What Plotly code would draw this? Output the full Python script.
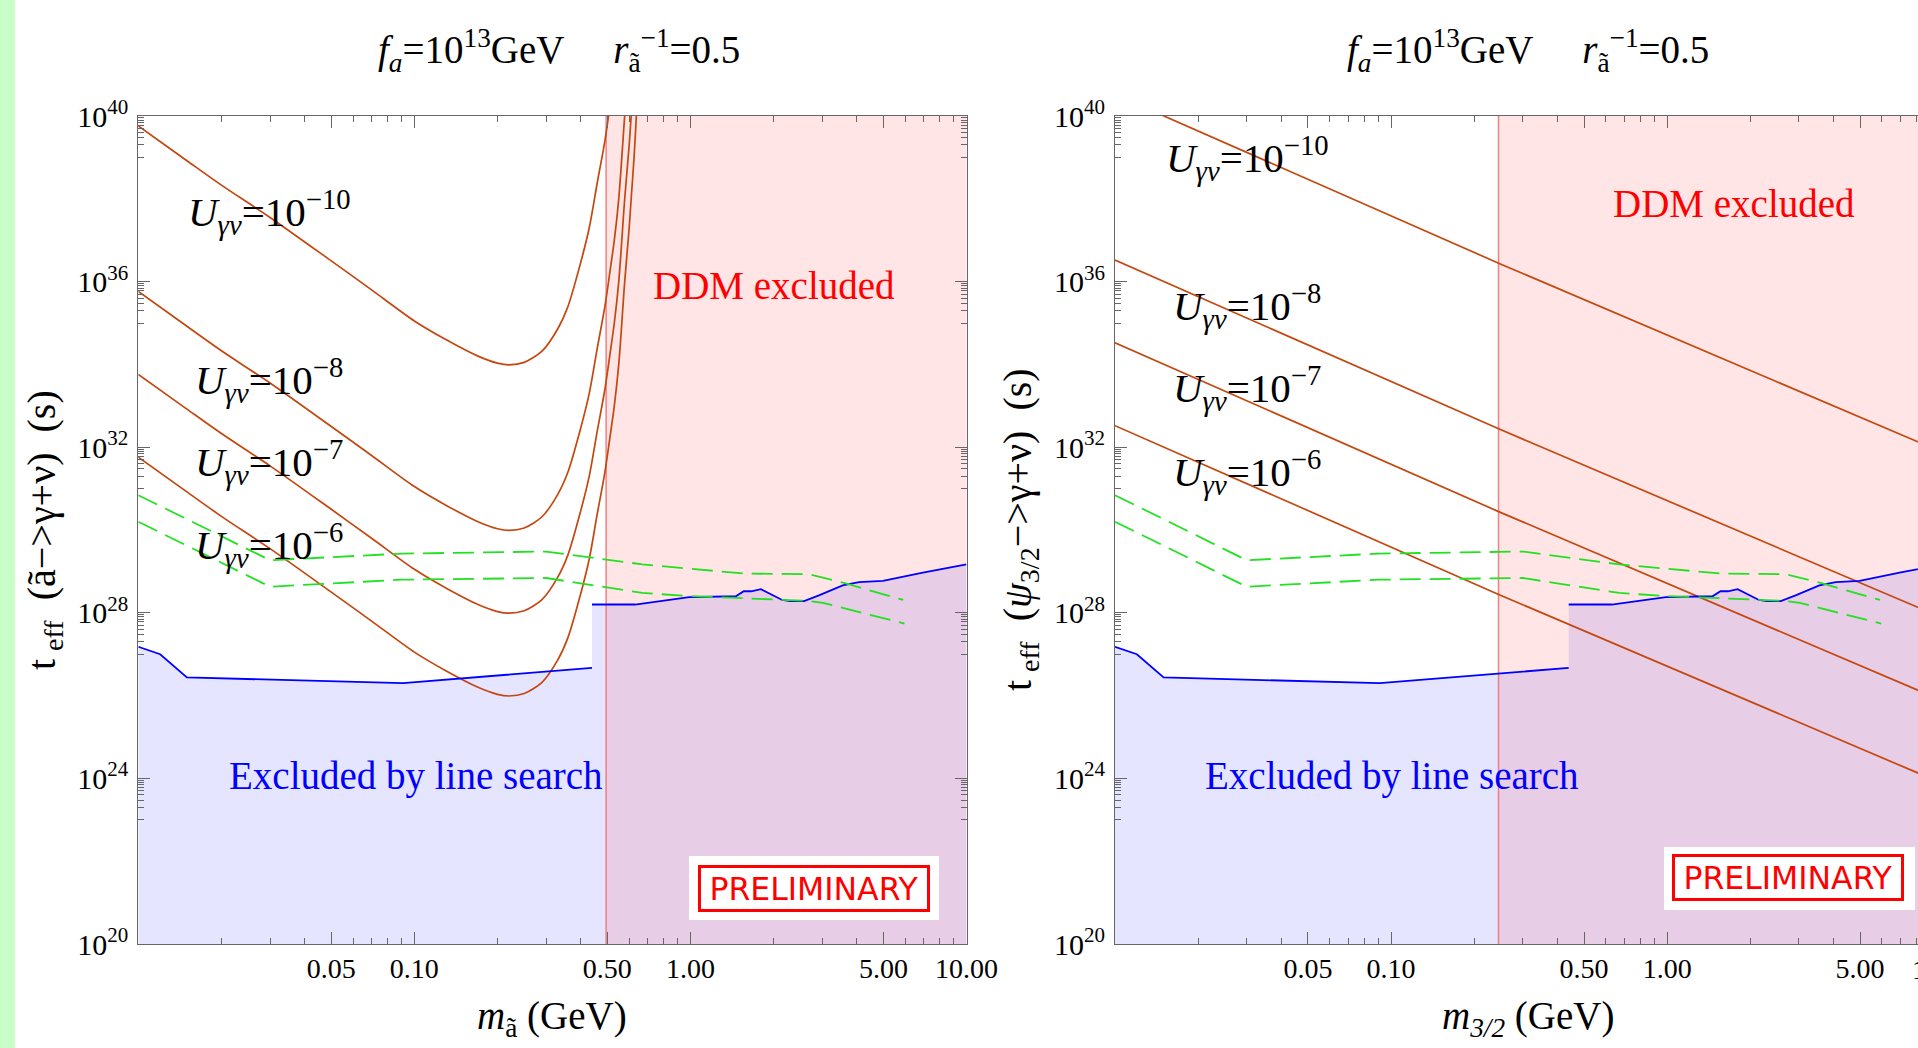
import plotly.graph_objects as go

W, H = 1918, 1048
SERIF = "Liberation Serif"
FRAME = "#666666"
RED = "#c4470f"
GREEN = "#22e022"
BLUE = "#0000ff"

# ---------------- data (log10 of lifetime in s) ----------------
# axino -> gamma + nu, left panel
m_axino = [0.01, 0.015, 0.02, 0.03, 0.05, 0.07, 0.1, 0.13, 0.17, 0.2, 0.22, 0.25, 0.29,
           0.33, 0.36, 0.4, 0.43, 0.46, 0.49, 0.51, 0.53, 0.55, 0.578, 0.6, 0.61, 0.625, 0.637, 0.65]
lt_axino_u10 = [39.76, 38.92, 38.33, 37.55, 36.5, 35.8, 35.05, 34.6, 34.2, 34.03, 33.99, 34.05, 34.32,
                34.85, 35.4, 36.45, 37.3, 38.4, 39.4, 40.2, 41.0, 42.0, 44.0, 45.3, 46.0, 47.0, 48.0, 49.0]
lt_axino_u8 = [35.76, 34.92, 34.33, 33.55, 32.5, 31.8, 31.05, 30.6, 30.2, 30.03, 29.99, 30.05, 30.32,
               30.85, 31.4, 32.45, 33.3, 34.4, 35.4, 36.2, 37.0, 38.0, 40.0, 41.3, 42.0, 43.0, 44.0, 45.0]
lt_axino_u7 = [33.76, 32.92, 32.33, 31.55, 30.5, 29.8, 29.05, 28.6, 28.2, 28.03, 27.99, 28.05, 28.32,
               28.85, 29.4, 30.45, 31.3, 32.4, 33.4, 34.2, 35.0, 36.0, 38.0, 39.3, 40.0, 41.0, 42.0, 43.0]
lt_axino_u6 = [31.76, 30.92, 30.33, 29.55, 28.5, 27.8, 27.05, 26.6, 26.2, 26.03, 25.99, 26.05, 26.32,
               26.85, 27.4, 28.45, 29.3, 30.4, 31.4, 32.2, 33.0, 34.0, 36.0, 37.3, 38.0, 39.0, 40.0, 41.0]

# gravitino -> gamma + nu, right panel
m_grav = [0.01, 0.25, 10.0]
lt_grav_u10 = [40.52, 36.42, 31.87]
lt_grav_u8 = [36.52, 32.42, 27.87]
lt_grav_u7 = [34.52, 30.42, 25.87]
lt_grav_u6 = [32.52, 28.42, 23.87]

# line-search bound (blue), two pieces
m_line_a = [0.01, 0.012, 0.015, 0.091, 0.44]
lt_line_a = [27.18, 27.0, 26.44, 26.3, 26.67]
m_line_b = [0.44, 0.63, 0.99, 1.46, 1.56, 1.66, 1.8, 2.15, 2.3, 2.58, 2.92, 3.56, 4.08, 4.98, 6.95, 10.0]
lt_line_b = [28.2, 28.2, 28.38, 28.4, 28.52, 28.52, 28.57, 28.31, 28.28, 28.28, 28.42, 28.66, 28.74, 28.77, 28.97, 29.17]

# green dashed curves
m_dash_up = [0.01, 0.03, 0.09, 0.3, 0.67, 1.55, 2.7, 3.6, 5.9]
lt_dash_up = [30.84, 29.27, 29.43, 29.48, 29.17, 28.95, 28.93, 28.72, 28.31]
m_dash_lo = [0.01, 0.03, 0.09, 0.3, 0.67, 0.96, 2.62, 3.02, 5.96]
lt_dash_lo = [30.2, 28.63, 28.8, 28.84, 28.48, 28.41, 28.29, 28.24, 27.74]

# DDM excluded thresholds
ddm_left = 0.495
ddm_right = 0.245

x_tickvals = [0.05, 0.1, 0.5, 1.0, 5.0, 10.0]
x_ticktext = ["0.05", "0.10", "0.50", "1.00", "5.00", "10.00"]
x_minor = [0.02, 0.03, 0.04, 0.06, 0.07, 0.08, 0.09, 0.2, 0.3, 0.4, 0.6, 0.7, 0.8, 0.9,
           2, 3, 4, 6, 7, 8, 9]
y_exps = [20, 24, 28, 32, 36, 40]
y_tickvals = [10.0 ** e for e in y_exps]
y_ticktext = ["10<sup>%d</sup>" % e for e in y_exps]
y_minor = [k * 10.0 ** (e - 1) for e in [24, 28, 32, 36, 40] for k in range(1, 10)]

# --------------------------------------------------------------------------------------
def tv(lst):
    return [10.0 ** v for v in lst]

def px(x):
    return x / W

def py(y):
    return 1 - y / H

fig = go.Figure()

def add_panel(xa, ya, ddm, curves):
    # line-search excluded fill
    fx = m_line_a + m_line_b + [10.0, 0.01]
    fy = tv(lt_line_a) + tv(lt_line_b) + [1e10, 1e10]
    fig.add_trace(go.Scatter(x=fx, y=fy, xaxis=xa, yaxis=ya, mode="lines", fill="toself",
                             fillcolor="rgba(0,0,255,0.1)", line=dict(width=0), hoverinfo="skip",
                             showlegend=False))
    # DDM excluded fill
    fig.add_trace(go.Scatter(x=[ddm, ddm, 100, 100, ddm], y=[1e10, 1e50, 1e50, 1e10, 1e10],
                             xaxis=xa, yaxis=ya, mode="lines", fill="toself",
                             fillcolor="rgba(255,0,0,0.1)", line=dict(width=1.5, color="rgba(240,110,110,0.85)"),
                             hoverinfo="skip", showlegend=False))
    for mx, lt in curves:
        fig.add_trace(go.Scatter(x=mx, y=tv(lt), xaxis=xa, yaxis=ya, mode="lines",
                                 line=dict(color=RED, width=1.7, shape="spline", smoothing=0.8),
                                 showlegend=False))
    for mx, lt in [(m_line_a, lt_line_a), (m_line_b, lt_line_b)]:
        fig.add_trace(go.Scatter(x=mx, y=tv(lt), xaxis=xa, yaxis=ya, mode="lines",
                                 line=dict(color=BLUE, width=1.8), showlegend=False))
    for mx, lt in [(m_dash_up, lt_dash_up), (m_dash_lo, lt_dash_lo)]:
        fig.add_trace(go.Scatter(x=mx, y=tv(lt), xaxis=xa, yaxis=ya, mode="lines",
                                 line=dict(color=GREEN, width=1.8, dash="21px,9px"), showlegend=False))

add_panel("x", "y", ddm_left, [(m_axino, lt_axino_u10), (m_axino, lt_axino_u8),
                               (m_axino, lt_axino_u7), (m_axino, lt_axino_u6)])
add_panel("x2", "y2", ddm_right, [(m_grav, lt_grav_u10), (m_grav, lt_grav_u8),
                                  (m_grav, lt_grav_u7), (m_grav, lt_grav_u6)])

ydom = [py(944), py(116)]

def xaxis(domain, rng, anchor):
    return dict(type="log", range=rng, domain=domain, anchor=anchor, showgrid=False, zeroline=False,
                showline=True, linecolor=FRAME, linewidth=1, mirror="allticks",
                ticks="inside", ticklen=12, tickwidth=1, tickcolor=FRAME,
                tickmode="array", tickvals=x_tickvals, ticktext=x_ticktext,
                tickfont=dict(family=SERIF, size=28, color="black"), ticklabelstandoff=-1,
                minor=dict(tickvals=x_minor, ticks="inside", ticklen=6, tickcolor=FRAME, showgrid=False),
                automargin=False, fixedrange=True)

def yaxis(anchor, mirror):
    return dict(type="log", range=[20, 40], domain=ydom, anchor=anchor, showgrid=False, zeroline=False,
                showline=True, linecolor=FRAME, linewidth=1, mirror=mirror,
                ticks="inside", ticklen=12, tickwidth=1, tickcolor=FRAME,
                tickmode="array", tickvals=y_tickvals, ticktext=y_ticktext,
                tickfont=dict(family=SERIF, size=30, color="black"), ticklabelstandoff=3,
                minor=dict(tickvals=y_minor, ticks="inside", ticklen=6, tickcolor=FRAME, showgrid=False),
                automargin=False, fixedrange=True)

L0, L1 = 138.3, 966.5
R0 = 1115.0
dec = (L1 - L0) / 3.0
right_hi = -2 + (W - R0) / dec

fig.update_layout(
    width=W, height=H, autosize=False,
    margin=dict(l=0, r=0, t=0, b=0, pad=0, autoexpand=False),
    paper_bgcolor="white", plot_bgcolor="white", showlegend=False,
    xaxis=xaxis([px(L0), px(L1)], [-2, 1], "y"),
    yaxis=yaxis("x", "allticks"),
    xaxis2=xaxis([px(R0), 1.0], [-2, right_hi], "y2"),
    yaxis2=yaxis("x2", False),
)

ann = []
def text(x, y, s, size, color="black", family=SERIF, xanchor="center", yanchor="middle", angle=0):
    ann.append(dict(x=px(x), y=py(y), xref="paper", yref="paper", text=s, showarrow=False,
                    font=dict(family=family, size=size, color=color), xanchor=xanchor,
                    yanchor=yanchor, textangle=angle))

title = ("<i>f</i><sub><i>a</i></sub>=10<sup>13</sup>GeV\u2003 <i>r</i><sub>ã</sub>"
         "<sup>\u22121</sup>=0.5")
text(559, 50, title, 39)
text(1528, 50, title, 39)

text(552, 1018, "<i>m</i><sub>ã</sub> (GeV)", 39)
text(1528, 1018, "<i>m</i><sub><i>3/2</i></sub> (GeV)", 39)
text(44, 530, "t\u2009<sub>eff</sub>\u2002(ã\u2212>\u03b3+\u03bd)\u2002(s)", 40, angle=-90)
text(1020, 530, "t\u2009<sub>eff</sub>\u2002(<i>\u03c8</i><sub>3/2</sub>\u2212>\u03b3+\u03bd)\u2002(s)", 40, angle=-90)

text(1943, 969, "10.00", 28)

def ulab(x, y, e):
    text(x, y, "<i>U</i><sub><i>\u03b3\u03bd</i></sub>=10<sup>\u2212%d</sup>" % e, 41,
         xanchor="left")

ulab(186, 212, 10)
ulab(193, 380, 8)
ulab(193, 462, 7)
ulab(193, 545, 6)
ulab(1164, 158, 10)
ulab(1171, 306, 8)
ulab(1171, 388, 7)
ulab(1171, 472, 6)

text(774, 286, "DDM excluded", 39, color="red")
text(1734, 203, "DDM excluded", 39, color="red")
text(227, 776, "Excluded by line search", 39, color="blue", xanchor="left")
text(1203, 776, "Excluded by line search", 39, color="blue", xanchor="left")

for cx, cy in [(813.5, 888), (1788, 877.5)]:
    ann.append(dict(x=px(cx), y=py(cy), xref="paper", yref="paper", text="PRELIMINARY",
                    showarrow=False, font=dict(family="DejaVu Sans", size=31.5, color="red"),
                    bordercolor="red", borderwidth=3, borderpad=2, bgcolor="white",
                    width=222, height=37, align="center", valign="middle",
                    xanchor="center", yanchor="middle"))

shapes = [
    dict(type="rect", xref="paper", yref="paper", x0=0, x1=px(15), y0=0, y1=1,
         fillcolor="#c8ffc8", line=dict(width=0), layer="below"),
    dict(type="rect", xref="paper", yref="paper", x0=px(689), x1=px(939), y0=py(920), y1=py(856),
         fillcolor="white", line=dict(width=0), layer="above"),
    dict(type="rect", xref="paper", yref="paper", x0=px(1664), x1=px(1915), y0=py(910), y1=py(847),
         fillcolor="white", line=dict(width=0), layer="above"),
]

fig.update_layout(annotations=ann, shapes=shapes)
fig.write_html("out.html")
